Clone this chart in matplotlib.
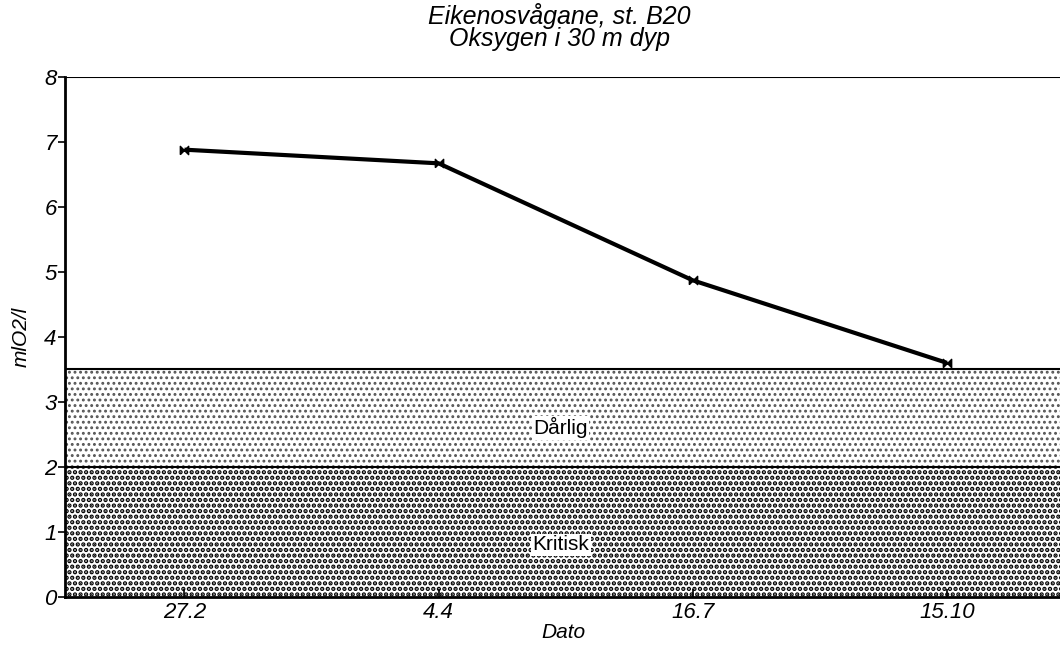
import matplotlib
matplotlib.use("Agg")
import matplotlib.pyplot as plt

plt.rcParams['font.family'] = ['Liberation Sans', 'DejaVu Sans']

dates = ["27.2", "4.4", "16.7", "15.10"]
oxygen = [6.88, 6.67, 4.87, 3.6]
zones = ["Kritisk", "Dårlig"]
zone_limits = [(0, 2), (2, 3.5)]
zone_label_y = [0.8, 2.6]
zone_dot_colour = ["black", "#555555"]
zone_dot_width = [2.2, 1.3]

fig = plt.figure(figsize=(10.6, 6.46), dpi=100)
ax = fig.add_axes([0.0613, 0.076, 0.94, 0.805])

xpos = list(range(len(dates)))
ax.set_xlim(-0.47, 3.45)
ax.set_ylim(0, 8)

# dotted bands for the zones
for name, (lo, hi), ly, c, w in zip(zones, zone_limits, zone_label_y,
                                    zone_dot_colour, zone_dot_width):
    plt.rcParams['hatch.linewidth'] = w
    band = ax.fill_between([-0.47, 3.45], lo, hi, facecolor="white", edgecolor=c,
                           hatch="...", linewidth=0)
    ax.axhline(hi, color="black", lw=1.5)
    ax.text(1.48, ly, name, ha="center", va="center", fontsize=15,
            bbox=dict(facecolor="white", edgecolor="none", pad=1))

bowtie = [(-1, -1), (-1, 1), (1, -1), (1, 1), (-1, -1)]
ax.plot(xpos, oxygen, color="black", lw=3, marker=bowtie, markersize=6,
        solid_capstyle="butt")
ax.axhline(8, color="black", lw=1.5)

ax.set_xticks(xpos)
ax.set_xticklabels(dates, style="italic", fontsize=16)
ax.set_yticks(range(0, 9))
ax.set_yticklabels([str(i) for i in range(0, 9)], style="italic", fontsize=16)
ax.tick_params(axis="x", direction="in", length=6, width=1.2, pad=4)
ax.tick_params(axis="y", direction="out", length=5, width=1.2, pad=1)

for s in ["top", "right"]:
    ax.spines[s].set_visible(False)
for s in ["left", "bottom"]:
    ax.spines[s].set_linewidth(2)

ax.set_xlabel("Dato", style="italic", fontsize=15, labelpad=0)
ax.set_ylabel("mlO2/l", style="italic", fontsize=15, labelpad=10)

fig.text(0.528, 0.995, "Eikenosvågane, st. B20\nOksygen i 30 m dyp", ha="center",
         va="top", style="italic", fontsize=18, linespacing=0.9)

fig.savefig("out.png", dpi=100)
